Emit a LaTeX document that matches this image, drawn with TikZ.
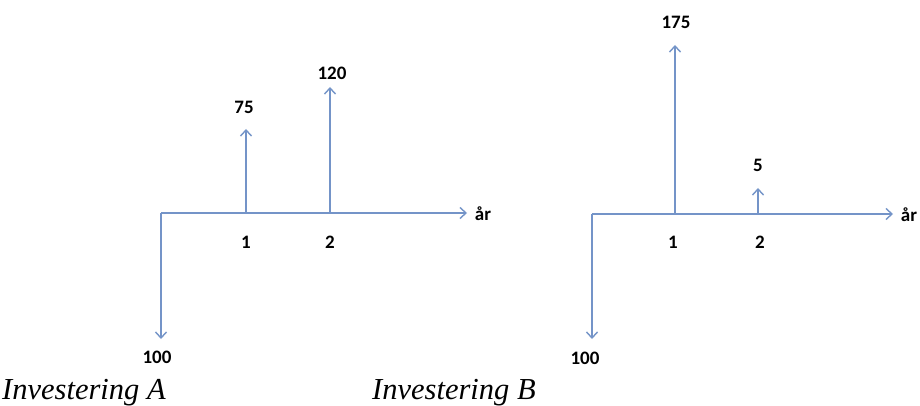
\documentclass[tikz,border=0pt]{standalone}
\usepackage{fontspec}
\setmainfont{Liberation Serif}
\newfontfamily\lblfont{Carlito}
\usetikzlibrary{arrows.meta}
\definecolor{axisblue}{RGB}{116,148,200}
\tikzset{
  flow/.style={draw=axisblue, line width=1.6pt, -{Straight Barb[length=6pt,width=11pt,line width=1.4pt]}},
  lbl/.style={font=\lblfont\bfseries\fontsize{19}{21}\selectfont, text=black, inner sep=0pt},
  caption/.style={font=\itshape\fontsize{30.5}{33}\selectfont, text=black, inner sep=0pt, anchor=base west}
}
\begin{document}
\begin{tikzpicture}[x=1pt,y=-1pt]
\useasboundingbox[fill=white] (0,0) rectangle (920,406);
% --- Investering A ---
\coordinate (oA) at (161,213);
\coordinate (eA) at (467,213);
\coordinate (dA) at (161,339);
\coordinate (a1) at (246,213);
\coordinate (a1t) at (246,129);
\coordinate (a2) at (330,213);
\coordinate (a2t) at (330,87);
\draw[flow] (oA) -- (eA);
\draw[flow] (oA) -- (dA);
\draw[flow] (a1) -- (a1t);
\draw[flow] (a2) -- (a2t);
\node[lbl] (yrA) at (483,214) {år};
\node[lbl] (mA) at (157,357) {100};
\node[lbl] (v75) at (244,107) {75};
\node[lbl] (v120) at (332,73) {120};
\node[lbl] (t1A) at (246,242) {1};
\node[lbl] (t2A) at (330,242) {2};
\node[caption] (capA) at (2,399) {Investering A};
% --- Investering B ---
\coordinate (oB) at (592,214);
\coordinate (eB) at (893,214);
\coordinate (dB) at (592,339);
\coordinate (b1) at (675,214);
\coordinate (b1t) at (675,45);
\coordinate (b2) at (758,214);
\coordinate (b2t) at (758,188);
\draw[flow] (oB) -- (eB);
\draw[flow] (oB) -- (dB);
\draw[flow] (b1) -- (b1t);
\draw[flow] (b2) -- (b2t);
\node[lbl] (yrB) at (909,215) {år};
\node[lbl] (mB) at (585,358) {100};
\node[lbl] (v175) at (676,22) {175};
\node[lbl] (v5) at (758,165) {5};
\node[lbl] (t1B) at (673,242) {1};
\node[lbl] (t2B) at (760,242) {2};
\node[caption] (capB) at (372,399) {Investering B};
\end{tikzpicture}
\end{document}
